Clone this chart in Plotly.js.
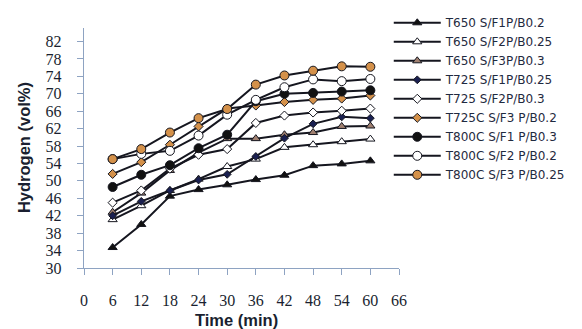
<!DOCTYPE html>
<html>
<head>
<meta charset="utf-8">
<script src="https://cdn.plot.ly/plotly-3.0.1.min.js"></script>
<style>html,body{margin:0;padding:0;background:#fff;}#chart{width:582px;height:329px;}</style>
</head>
<body>
<div id="chart"></div>
<script>
var time = [6, 12, 18, 24, 30, 36, 42, 48, 54, 60];
var seriesNames = [
  "T650 S/F1P/B0.2", "T650 S/F2P/B0.25", "T650 S/F3P/B0.3",
  "T725 S/F1P/B0.25", "T725 S/F2P/B0.3", "T725C S/F3 P/B0.2",
  "T800C S/F1 P/B0.3", "T800C S/F2 P/B0.2", "T800C S/F3 P/B0.25"
];
var t650_f1 = [34.7, 40.0, 46.5, 48.0, 49.1, 50.3, 51.3, 53.5, 53.9, 54.6];
var t650_f2 = [41.1, 44.3, 47.8, 50.4, 53.3, 55.0, 57.7, 58.3, 59.0, 59.6];
var t650_f3 = [42.8, 47.2, 52.4, 56.5, 59.7, 59.7, 60.6, 61.1, 62.5, 62.6];
var t725_f1 = [42.0, 45.3, 47.8, 50.2, 51.5, 55.6, 59.8, 63.1, 64.7, 64.4];
var t725_f2 = [45.0, 47.8, 52.8, 56.0, 57.3, 63.3, 65.0, 65.7, 66.1, 66.6];
var t725_f3 = [51.6, 54.3, 58.3, 62.5, 66.6, 67.3, 68.1, 68.6, 68.9, 69.6];
var t800_f1 = [48.6, 51.4, 53.6, 57.5, 60.6, 68.3, 70.0, 70.2, 70.5, 70.8];
var t800_f2 = [55.0, 56.2, 56.9, 60.4, 65.2, 68.6, 71.5, 73.3, 72.9, 73.4];
var t800_f3 = [55.0, 57.3, 61.1, 64.4, 66.5, 72.1, 74.2, 75.3, 76.3, 76.2];
var xTicks = [0, 6, 12, 18, 24, 30, 36, 42, 48, 54, 60, 66];
var yTicks = [30, 34, 38, 42, 46, 50, 54, 58, 62, 66, 70, 74, 78, 82];

var allY = [t650_f1, t650_f2, t650_f3, t725_f1, t725_f2, t725_f3, t800_f1, t800_f2, t800_f3];
var lineCol = "#15161f";
var orange = "#d4914a";
var styles = [
  {symbol: "triangle-up", size: 8, color: "#111111"},
  {symbol: "triangle-up", size: 8, color: "#ffffff"},
  {symbol: "triangle-up", size: 8, color: "#a08070"},
  {symbol: "diamond", size: 6, color: "#1a2050"},
  {symbol: "diamond", size: 7, color: "#ffffff"},
  {symbol: "diamond", size: 7, color: orange},
  {symbol: "circle", size: 9, color: "#111111"},
  {symbol: "circle", size: 9, color: "#ffffff"},
  {symbol: "circle", size: 9, color: orange}
];
var traces = allY.map(function(y, i) {
  return {
    x: time, y: y, name: seriesNames[i], type: "scatter", mode: "lines+markers",
    line: {color: lineCol, width: 2},
    marker: {symbol: styles[i].symbol, size: styles[i].size, color: styles[i].color,
             line: {color: "#15161f", width: 1}}
  };
});
var tickFont = {family: "Liberation Serif", size: 16, color: "#1a1f30"};
var titleFont = {family: "Liberation Sans", size: 16.5, color: "#1a1f30"};
var layout = {
  width: 582, height: 329,
  margin: {l: 84, r: 182.7, t: 28, b: 60.7, autoexpand: false},
  paper_bgcolor: "#ffffff", plot_bgcolor: "#ffffff",
  showlegend: true,
  legend: {x: 0.9675, xanchor: "left", yref: "container", y: 1 - 8.3 / 329, yanchor: "top",
           maxheight: 400,
           font: {family: "DejaVu Sans", size: 12, color: "#1f2a40"},
           itemwidth: 47, tracegroupgap: 0, bgcolor: "rgba(0,0,0,0)"},
  xaxis: {range: [0, 66], tickvals: xTicks, ticktext: xTicks.map(String),
          showgrid: false, zeroline: false, showline: true, linecolor: "#8ea3c2", linewidth: 1.3,
          ticks: "outside", ticklen: 6, tickcolor: "#8ea3c2", tickfont: tickFont,
          ticklabelstandoff: 11, automargin: false},
  yaxis: {range: [30, 85.1], tickvals: yTicks, ticktext: yTicks.map(String),
          showgrid: false, zeroline: false, showline: true, linecolor: "#8ea3c2", linewidth: 1.3,
          ticks: "outside", ticklen: 6, tickcolor: "#8ea3c2", tickfont: tickFont,
          ticklabelstandoff: 12, automargin: false},
  annotations: [
    {text: "<b>Time (min)</b>", xref: "paper", yref: "paper", x: (237 - 84) / 315.3, y: -0.215,
     xanchor: "center", yanchor: "middle", showarrow: false, font: titleFont},
    {text: "<b>Hydrogen (vol%)</b>", xref: "paper", yref: "paper", x: (24 - 84) / 315.3, y: 0.5,
     xanchor: "center", yanchor: "middle", showarrow: false, textangle: -90, font: titleFont}
  ]
};
Plotly.newPlot("chart", traces, layout, {displayModeBar: false, staticPlot: true});
</script>
</body>
</html>
